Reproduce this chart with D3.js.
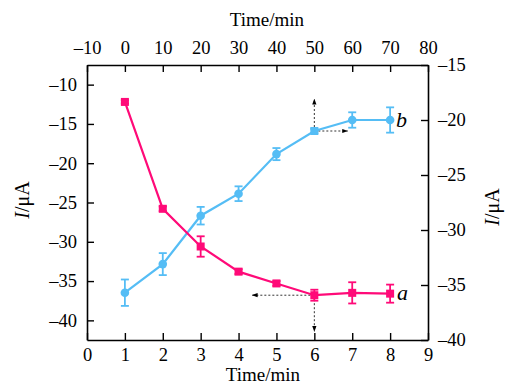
<!DOCTYPE html>
<html>
<head>
<meta charset="utf-8">
<script src="https://cdn.jsdelivr.net/npm/d3@7"></script>
<style>
  html, body { margin: 0; padding: 0; background: #fff; }
  svg { display: block; font-family: "Liberation Serif", "Times New Roman", serif; }
</style>
</head>
<body>
<svg id="chart" width="505" height="386"></svg>
<script>
// Series a: current vs. time on the bottom/left axes
const timesA = [1, 2, 3, 4, 5, 6, 7, 8];
const valuesA = [-12.2, -25.8, -30.6, -33.8, -35.3, -36.8, -36.5, -36.6];
const errorsA = [0.2, 0.3, 1.3, 0.3, 0.3, 0.7, 1.35, 1.15];

// Series b: current vs. time on the top/right axes
const timesB = [0, 10, 20, 30, 40, 50, 60, 70];
const valuesB = [-35.7, -33.1, -28.7, -26.7, -23.1, -21.0, -20.0, -20.0];
const errorsB = [1.2, 1.0, 0.8, 0.67, 0.55, 0.2, 0.7, 1.15];

const bottomTicks = [0, 1, 2, 3, 4, 5, 6, 7, 8, 9];
const topTicks = [-10, 0, 10, 20, 30, 40, 50, 60, 70, 80];
const leftTicks = [-40, -35, -30, -25, -20, -15, -10];
const rightTicks = [-40, -35, -30, -25, -20, -15];

const colorA = "#ff0a78";
const colorB = "#55bdf5";

const svg = d3.select("#chart");
const L = 87, R = 428, T = 65, B = 340;

const xBottom = d3.scaleLinear().domain([0, 9]).range([L, R]);
const xTop = d3.scaleLinear().domain([-10, 80]).range([L, R]);
const yLeft = d3.scaleLinear().domain([-42.5, -7.5]).range([B, T]);
const yRight = d3.scaleLinear().domain([-40, -15]).range([B, T]);

const fmt = d => (d < 0 ? "\u2013" + Math.abs(d) : String(d));
const tickLen = 7;

function styleAxis(g) {
  g.selectAll(".domain").attr("stroke", "#000").attr("stroke-width", 1.6);
  g.selectAll(".tick line").attr("stroke", "#000").attr("stroke-width", 1.4);
  g.selectAll(".tick text").attr("fill", "#000")
    .style("font-family", "'Liberation Serif', serif").style("font-size", "18.5px");
}

svg.append("g").attr("transform", `translate(0,${B})`)
  .call(d3.axisBottom(xBottom).tickValues(bottomTicks).tickFormat(fmt)
    .tickSizeInner(-tickLen).tickSizeOuter(0).tickPadding(tickLen + 1))
  .call(styleAxis);

svg.append("g").attr("transform", `translate(0,${T})`)
  .call(d3.axisTop(xTop).tickValues(topTicks).tickFormat(fmt)
    .tickSizeInner(-tickLen).tickSizeOuter(0).tickPadding(tickLen + 4))
  .call(styleAxis);

svg.append("g").attr("transform", `translate(${L},0)`)
  .call(d3.axisLeft(yLeft).tickValues(leftTicks).tickFormat(fmt)
    .tickSizeInner(-tickLen).tickSizeOuter(0).tickPadding(tickLen + 3))
  .call(styleAxis);

svg.append("g").attr("transform", `translate(${R},0)`)
  .call(d3.axisRight(yRight).tickValues(rightTicks).tickFormat(fmt)
    .tickSizeInner(-tickLen).tickSizeOuter(0).tickPadding(tickLen + 3))
  .call(styleAxis);

// Axis titles
svg.append("text").attr("x", 263).attr("y", 381).attr("text-anchor", "middle")
  .style("font-size", "19px").style("font-weight", "normal").text("Time/min");
svg.append("text").attr("x", 267).attr("y", 26).attr("text-anchor", "middle")
  .style("font-size", "19px").style("font-weight", "normal").text("Time/min");

function yTitle(x, y) {
  const t = svg.append("text").attr("transform", `translate(${x},${y}) rotate(-90)`)
    .attr("text-anchor", "middle").style("font-size", "20px");
  t.append("tspan").style("font-style", "italic").text("I");
  t.append("tspan").text("/\u03bcA");
}
yTitle(29, 200);
yTitle(499, 207);

// Guide arrows from the highlighted points to their axes
svg.append("defs").append("marker")
  .attr("id", "arr").attr("viewBox", "0 0 10 10").attr("refX", 9).attr("refY", 5)
  .attr("markerWidth", 6).attr("markerHeight", 6).attr("orient", "auto-start-reverse")
  .append("path").attr("d", "M0,1.5 L10,5 L0,8.5 Z").attr("fill", "#000");

const guides = svg.append("g").attr("stroke", "#333").attr("stroke-width", 1)
  .attr("stroke-dasharray", "2,2").attr("fill", "none");
const ia = 5, ib = 5;
const ax = xBottom(timesA[ia]), ay = yLeft(valuesA[ia]);
guides.append("line").attr("x1", ax).attr("y1", ay).attr("x2", xBottom(4.36)).attr("y2", ay)
  .attr("marker-end", "url(#arr)");
guides.append("line").attr("x1", ax).attr("y1", ay).attr("x2", ax).attr("y2", yLeft(-41.4))
  .attr("marker-end", "url(#arr)");
const bx = xTop(timesB[ib]), by = yRight(valuesB[ib]);
guides.append("line").attr("x1", bx).attr("y1", by).attr("x2", bx).attr("y2", yRight(-18.1))
  .attr("marker-end", "url(#arr)");
guides.append("line").attr("x1", bx).attr("y1", by).attr("x2", xTop(58.8)).attr("y2", by)
  .attr("marker-end", "url(#arr)");

function drawSeries(xs, ys, es, xScale, yScale, color, shape, squareIndex) {
  const data = xs.map((x, i) => ({ x, y: ys[i], e: es[i], i }));
  const g = svg.append("g");
  g.append("path").datum(data)
    .attr("fill", "none").attr("stroke", color).attr("stroke-width", 2.2)
    .attr("d", d3.line().x(d => xScale(d.x)).y(d => yScale(d.y)));
  const eb = g.append("g").attr("stroke", color).attr("stroke-width", 1.8);
  data.forEach(d => {
    const cx = xScale(d.x), y1 = yScale(d.y + d.e), y2 = yScale(d.y - d.e);
    eb.append("line").attr("x1", cx).attr("x2", cx).attr("y1", y1).attr("y2", y2);
    eb.append("line").attr("x1", cx - 4).attr("x2", cx + 4).attr("y1", y1).attr("y2", y1);
    eb.append("line").attr("x1", cx - 4).attr("x2", cx + 4).attr("y1", y2).attr("y2", y2);
  });
  data.forEach(d => {
    const cx = xScale(d.x), cy = yScale(d.y);
    if (shape === "square" || d.i === squareIndex) {
      g.append("rect").attr("x", cx - 4).attr("y", cy - 4).attr("width", 8).attr("height", 8)
        .attr("fill", color);
    } else {
      g.append("circle").attr("cx", cx).attr("cy", cy).attr("r", 4.3).attr("fill", color);
    }
  });
}

drawSeries(timesB, valuesB, errorsB, xTop, yRight, colorB, "circle", ib);
drawSeries(timesA, valuesA, errorsA, xBottom, yLeft, colorA, "square", -1);

// Series labels
svg.append("text").attr("x", 397).attr("y", yLeft(valuesA[7]) + 6)
  .style("font-size", "22px").style("font-style", "italic").text("a");
svg.append("text").attr("x", 396).attr("y", yRight(valuesB[7]) + 7)
  .style("font-size", "22px").style("font-style", "italic").text("b");
</script>
</body>
</html>
